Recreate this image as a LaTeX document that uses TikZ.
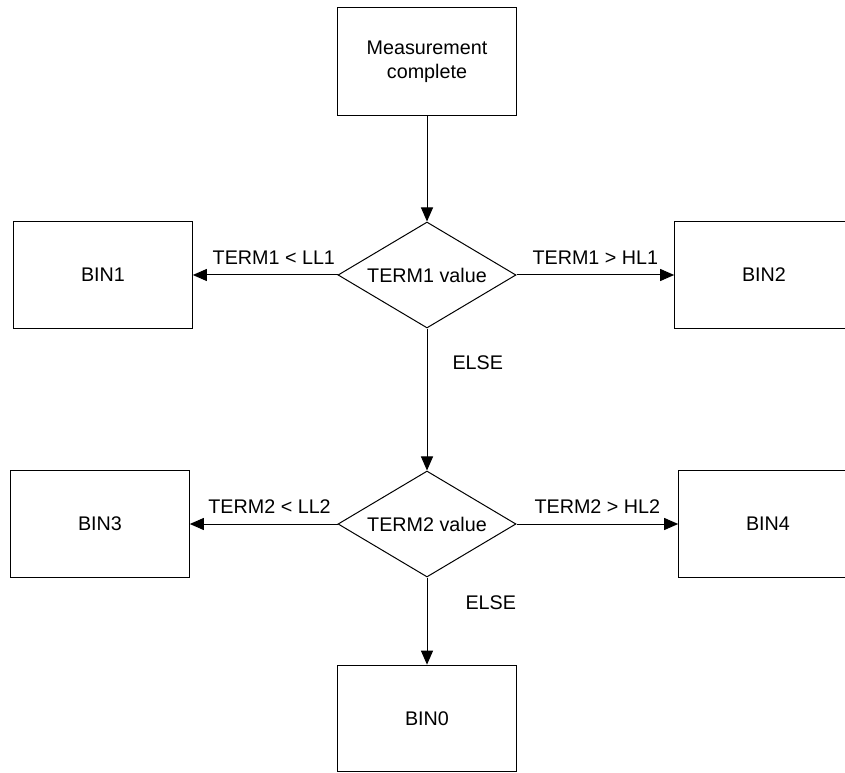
\documentclass[tikz,border=0pt]{standalone}
\usepackage{fontspec}
\setmainfont{Liberation Sans}
\usetikzlibrary{arrows.meta, shapes.geometric}

\begin{document}
\begin{tikzpicture}[
  x=0.75pt, y=-0.75pt,
  font=\fontsize{14.8}{18}\selectfont,
  box/.style={draw, line width=0.75pt, minimum width=134pt, minimum height=80pt,
              inner sep=0pt, align=center},
  decide/.style={draw, diamond, line width=0.75pt, aspect=1.68,
                 minimum width=133.5pt, minimum height=79.5pt, inner sep=0pt},
  flow/.style={-{Triangle[length=10.5pt, width=9pt]}, line width=0.75pt},
  edgelbl/.style={inner sep=0pt}
]
  \useasboundingbox (0,0) rectangle (845,773);
  \clip (0,0) rectangle (845,773);

  \node[box, minimum height=81pt] (meas) at (427,62) {Measurement\\complete};
  \node[decide] (term1) at (427,275) {TERM1 value};
  \node[box] (bin1) at (103,275) {BIN1};
  \node[box] (bin2) at (764,275) {BIN2};
  \node[decide] (term2) at (427,524) {TERM2 value};
  \node[box] (bin3) at (100,524) {BIN3};
  \node[box] (bin4) at (768,524) {BIN4};
  \node[box] (bin0) at (427,718.5) {BIN0};

  \draw[flow] (meas) -- (term1);
  \draw[flow] (term1) -- node[pos=0.44, above=7.5pt, edgelbl] {TERM1 < LL1} (bin1);
  \draw[flow] (term1) -- node[above=7.5pt, edgelbl] {TERM1 > HL1} (bin2);
  \draw[flow] (term1) -- node[pos=0.24, right=18.75pt, edgelbl] {ELSE} (term2);

  \draw[flow] (term2) -- node[pos=0.46, above=7.5pt, edgelbl] {TERM2 < LL2} (bin3);
  \draw[flow] (term2) -- node[above=7.5pt, edgelbl] {TERM2 > HL2} (bin4);
  \draw[flow] (term2) -- node[pos=0.29, right=28.5pt, edgelbl] {ELSE} (bin0);
\end{tikzpicture}
\end{document}
